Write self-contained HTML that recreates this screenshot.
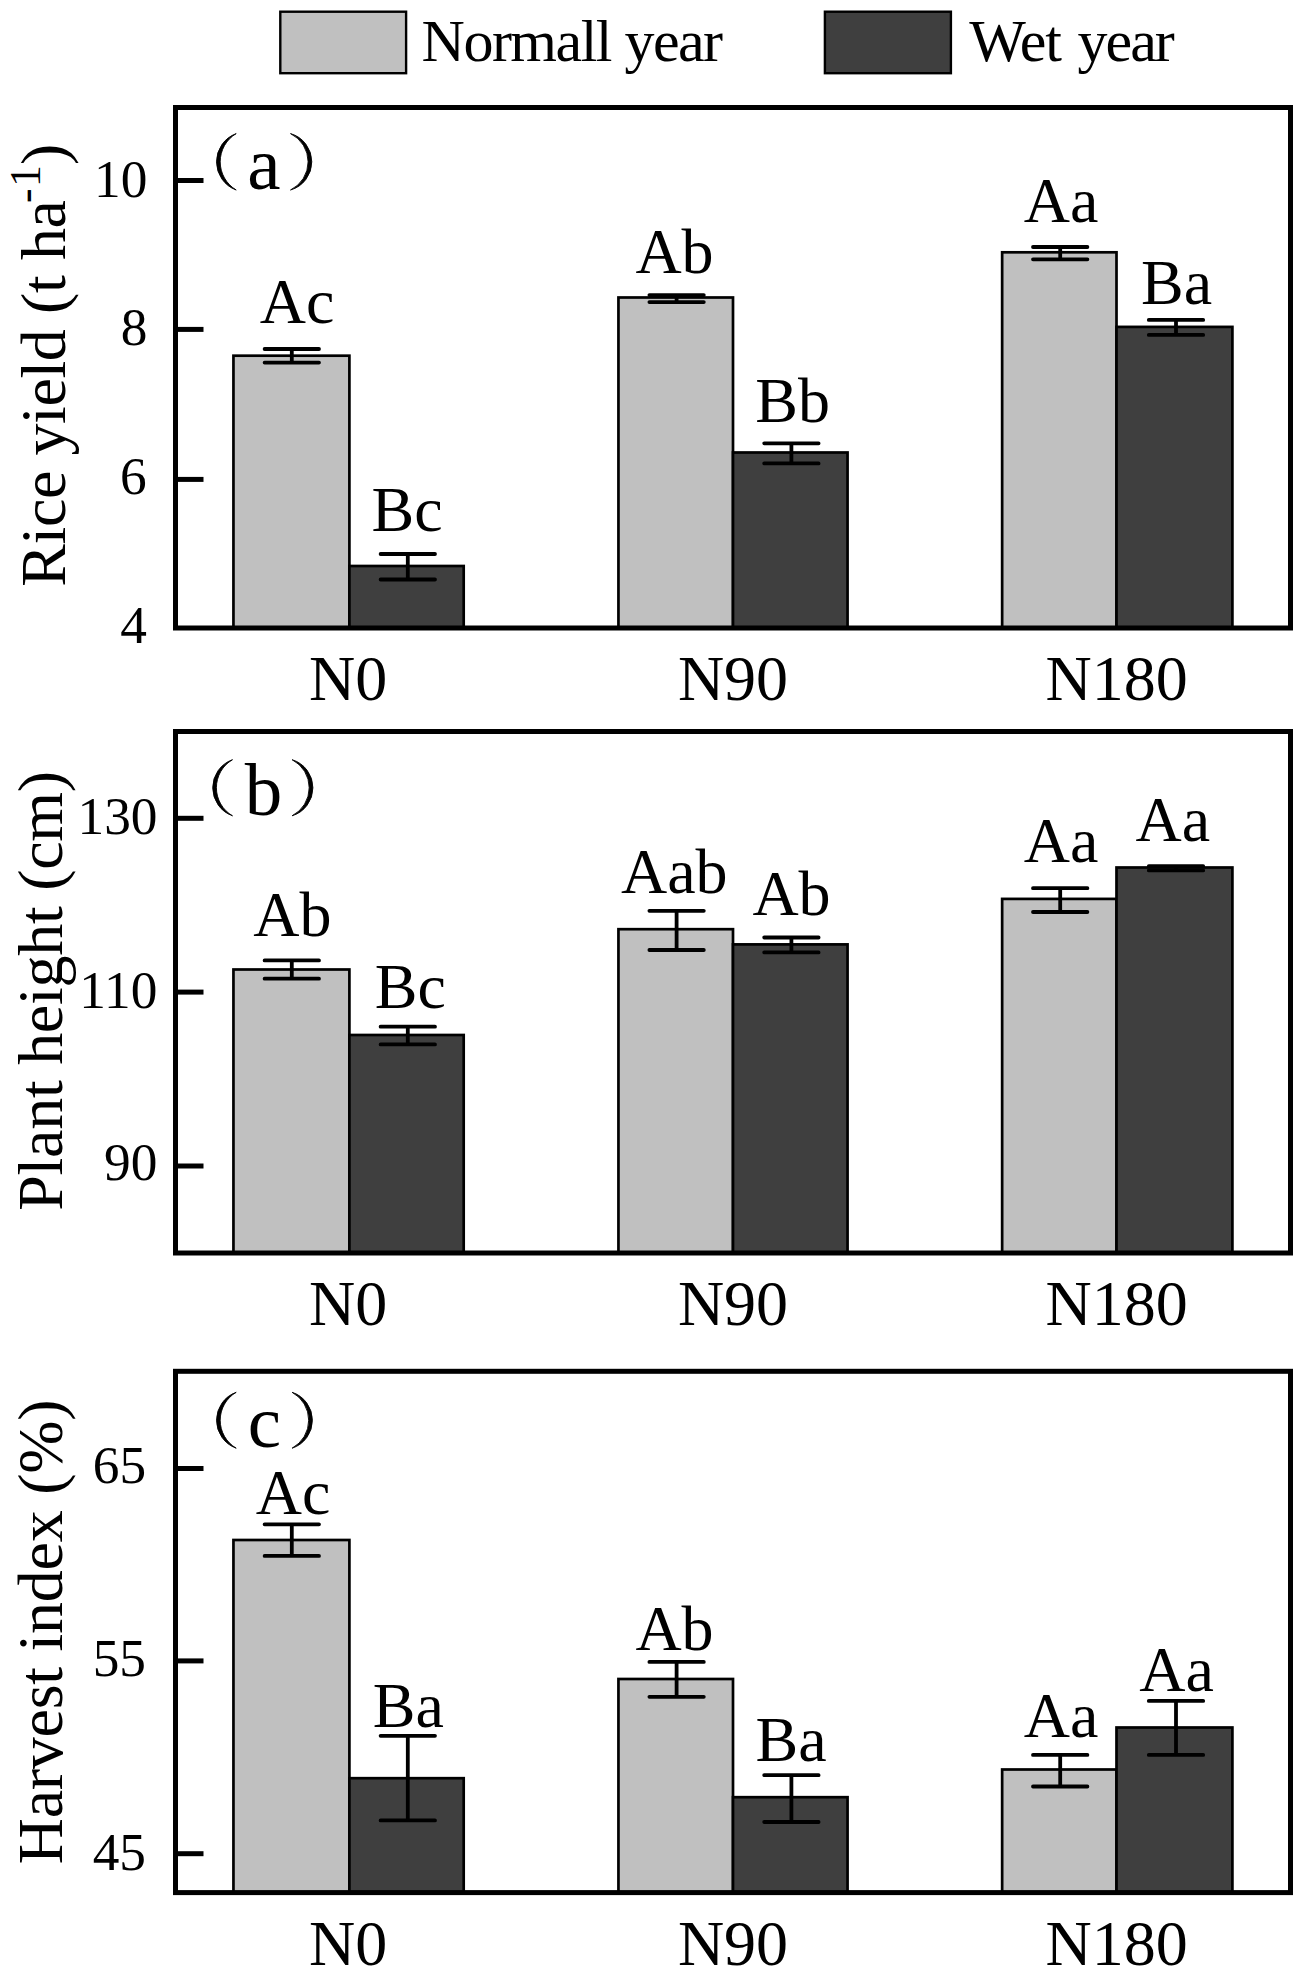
<!DOCTYPE html>
<html lang="en"><head><meta charset="utf-8"><title>Rice yield, plant height and harvest index</title>
<style>
html,body{margin:0;padding:0;background:#fff;}
body{width:1315px;height:1978px;overflow:hidden;}
svg{display:block;}
text{font-family:"Liberation Serif",serif;fill:#000;}
.yt{font-size:53.33px;text-anchor:end;}
.xt{font-size:64px;text-anchor:middle;}
.bl{font-size:64px;text-anchor:middle;}
.ti{font-size:64px;}
.lg{font-size:60px;}
.pn{font-size:75px;}
.pr{fill:#000;stroke:#000;stroke-width:0.9;stroke-linejoin:round;}
.fr{fill:none;stroke:#000;stroke-width:5;stroke-linejoin:miter;}
.tk{stroke:#000;stroke-width:5;}
.eb{stroke:#000;stroke-width:3.8;stroke-linecap:round;fill:none;}
.es{stroke:#000;stroke-width:3.8;stroke-linecap:butt;fill:none;}
.bL{fill:#c0c0c0;stroke:#000;stroke-width:2.7;}
.bD{fill:#3f3f3f;stroke:#000;stroke-width:2.7;}
</style></head><body>
<svg width="1315" height="1978" viewBox="0 0 1315 1978" role="img" aria-label="Bar charts of rice yield, plant height and harvest index under N0, N90 and N180 for normal and wet years">
<rect x="0" y="0" width="1315" height="1978" fill="#fff"/>
<rect class="bL" style="stroke-width:2.4" x="280.3" y="11.7" width="125.8" height="61.5"/>
<text class="lg" x="421.6" y="61" textLength="301.5" lengthAdjust="spacing">Normall year</text>
<rect class="bD" style="stroke-width:2.4" x="824.9" y="11.7" width="126" height="61.5"/>
<text class="lg" x="969.3" y="61" textLength="92.6" lengthAdjust="spacing">Wet</text>
<text class="lg" x="1077.6" y="61" textLength="97.2" lengthAdjust="spacing">year</text>
<g>
<rect class="bL" x="233.45" y="355.7" width="115.95" height="272.3"/>
<rect class="bD" x="349.4" y="566" width="114.3" height="62"/>
<rect class="bL" x="618.45" y="297.5" width="114.55" height="330.5"/>
<rect class="bD" x="733" y="452.5" width="114.55" height="175.5"/>
<rect class="bL" x="1002.15" y="252.3" width="114.35" height="375.7"/>
<rect class="bD" x="1116.5" y="326.9" width="115.9" height="301.1"/>
<path class="es" d="M291.8 349 V362.6"/>
<path class="eb" d="M264.6 349 H319 M264.6 362.6 H319"/>
<path class="es" d="M407.8 554 V579.5"/>
<path class="eb" d="M380.6 554 H435 M380.6 579.5 H435"/>
<path class="es" d="M676.6 295.1 V302.1"/>
<path class="eb" d="M649.4 295.1 H703.8 M649.4 302.1 H703.8"/>
<path class="es" d="M791.4 443.3 V463.4"/>
<path class="eb" d="M764.2 443.3 H818.6 M764.2 463.4 H818.6"/>
<path class="es" d="M1060.2 247 V259.3"/>
<path class="eb" d="M1033 247 H1087.4 M1033 259.3 H1087.4"/>
<path class="es" d="M1176 319.9 V334.9"/>
<path class="eb" d="M1148.8 319.9 H1203.2 M1148.8 334.9 H1203.2"/>
<rect class="fr" x="175.5" y="107.5" width="1115" height="520.5"/>
<path class="tk" d="M175.5 180.5 H203.5"/>
<path class="tk" d="M175.5 329.4 H203.5"/>
<path class="tk" d="M175.5 479.4 H203.5"/>
<text class="yt" x="147.3" y="197">10</text>
<text class="yt" x="147.4" y="345">8</text>
<text class="yt" x="146.65" y="494">6</text>
<text class="yt" x="147" y="643">4</text>
<text class="xt" x="348.1" y="700">N0</text>
<text class="xt" x="733" y="700">N90</text>
<text class="xt" x="1116.7" y="700">N180</text>
<text class="bl" x="297.1" y="323">Ac</text>
<text class="bl" x="407.1" y="531">Bc</text>
<text class="bl" x="674.5" y="273">Ab</text>
<text class="bl" x="792.7" y="422">Bb</text>
<text class="bl" x="1061" y="222">Aa</text>
<text class="bl" x="1176.6" y="304">Ba</text>
<path class="pr" d="M236.2 133.6 A30.03 30.03 0 0 0 236.2 190 A32.85 32.85 0 0 1 236.2 133.6 Z"/>
<text class="pn" x="247.2" y="189.2">a</text>
<path class="pr" d="M290.5 133.6 A29.32 29.32 0 0 1 290.5 190 A31.39 31.39 0 0 0 290.5 133.6 Z"/>
<g transform="translate(65.3 586.7) rotate(-90)">
<text class="ti" x="0" y="0" textLength="386.6" lengthAdjust="spacing">Rice yield (t ha</text>
<text class="ti" style="font-size:43.5px" x="383.8" y="-25">-</text>
<text class="ti" style="font-size:43.5px" x="399.6" y="-25">1</text>
<text class="ti" style="font-size:64px" x="421.6" y="0">)</text>
</g>
</g>
<g>
<rect class="bL" x="233.45" y="969.5" width="115.95" height="283.5"/>
<rect class="bD" x="349.4" y="1035" width="114.3" height="218"/>
<rect class="bL" x="618.45" y="929.2" width="114.55" height="323.8"/>
<rect class="bD" x="733" y="944.4" width="114.55" height="308.6"/>
<rect class="bL" x="1002.15" y="898.9" width="114.35" height="354.1"/>
<rect class="bD" x="1116.5" y="867.5" width="115.9" height="385.5"/>
<path class="es" d="M291.8 960.4 V978.7"/>
<path class="eb" d="M264.6 960.4 H319 M264.6 978.7 H319"/>
<path class="es" d="M407.8 1026.7 V1044.4"/>
<path class="eb" d="M380.6 1026.7 H435 M380.6 1044.4 H435"/>
<path class="es" d="M676.6 910.8 V950"/>
<path class="eb" d="M649.4 910.8 H703.8 M649.4 950 H703.8"/>
<path class="es" d="M791.4 937.5 V952.4"/>
<path class="eb" d="M764.2 937.5 H818.6 M764.2 952.4 H818.6"/>
<path class="es" d="M1060.2 888.2 V912"/>
<path class="eb" d="M1033 888.2 H1087.4 M1033 912 H1087.4"/>
<path class="es" d="M1176 866.2 V870.4"/>
<path class="eb" d="M1148.8 866.2 H1203.2 M1148.8 870.4 H1203.2"/>
<rect class="fr" x="175.5" y="731.5" width="1115" height="521.5"/>
<path class="tk" d="M175.5 818.3 H203.5"/>
<path class="tk" d="M175.5 992.1 H203.5"/>
<path class="tk" d="M175.5 1166 H203.5"/>
<text class="yt" x="157.5" y="834">130</text>
<text class="yt" x="157.3" y="1008">110</text>
<text class="yt" x="157.4" y="1180">90</text>
<text class="xt" x="348.1" y="1325">N0</text>
<text class="xt" x="733" y="1325">N90</text>
<text class="xt" x="1116.7" y="1325">N180</text>
<text class="bl" x="292.3" y="936">Ab</text>
<text class="bl" x="410.3" y="1008">Bc</text>
<text class="bl" x="674.3" y="893">Aab</text>
<text class="bl" x="791.5" y="915">Ab</text>
<text class="bl" x="1061" y="862">Aa</text>
<text class="bl" x="1172.9" y="841">Aa</text>
<path class="pr" d="M232.5 759.7 A29.77 29.77 0 0 0 232.5 815.8 A32.48 32.48 0 0 1 232.5 759.7 Z"/>
<text class="pn" x="244.7" y="815">b</text>
<path class="pr" d="M292.1 759.7 A29.31 29.31 0 0 1 292.1 815.8 A31.56 31.56 0 0 0 292.1 759.7 Z"/>
<g transform="translate(61.7 1210.7) rotate(-90)">
<text class="ti" x="0" y="0" textLength="439.8" lengthAdjust="spacing">Plant height (cm)</text>
</g>
</g>
<g>
<rect class="bL" x="233.45" y="1540" width="115.95" height="352.6"/>
<rect class="bD" x="349.4" y="1778.2" width="114.3" height="114.4"/>
<rect class="bL" x="618.45" y="1679" width="114.55" height="213.6"/>
<rect class="bD" x="733" y="1797.2" width="114.55" height="95.4"/>
<rect class="bL" x="1002.15" y="1769.5" width="114.35" height="123.1"/>
<rect class="bD" x="1116.5" y="1727.5" width="115.9" height="165.1"/>
<path class="es" d="M291.8 1524.3 V1555.9"/>
<path class="eb" d="M264.6 1524.3 H319 M264.6 1555.9 H319"/>
<path class="es" d="M407.8 1735.8 V1820.4"/>
<path class="eb" d="M380.6 1735.8 H435 M380.6 1820.4 H435"/>
<path class="es" d="M676.6 1661.9 V1696.8"/>
<path class="eb" d="M649.4 1661.9 H703.8 M649.4 1696.8 H703.8"/>
<path class="es" d="M791.4 1775.2 V1822"/>
<path class="eb" d="M764.2 1775.2 H818.6 M764.2 1822 H818.6"/>
<path class="es" d="M1060.2 1754.9 V1786.5"/>
<path class="eb" d="M1033 1754.9 H1087.4 M1033 1786.5 H1087.4"/>
<path class="es" d="M1176 1700.9 V1754.9"/>
<path class="eb" d="M1148.8 1700.9 H1203.2 M1148.8 1754.9 H1203.2"/>
<rect class="fr" x="175.5" y="1371.3" width="1115" height="521.3"/>
<path class="tk" d="M175.5 1468.5 H203.5"/>
<path class="tk" d="M175.5 1660.9 H203.5"/>
<path class="tk" d="M175.5 1853.7 H203.5"/>
<text class="yt" x="146.1" y="1483">65</text>
<text class="yt" x="146" y="1676">55</text>
<text class="yt" x="146" y="1870">45</text>
<text class="xt" x="348.1" y="1965">N0</text>
<text class="xt" x="733" y="1965">N90</text>
<text class="xt" x="1116.7" y="1965">N180</text>
<text class="bl" x="293" y="1514">Ac</text>
<text class="bl" x="408.4" y="1727">Ba</text>
<text class="bl" x="674.5" y="1650">Ab</text>
<text class="bl" x="791" y="1761">Ba</text>
<text class="bl" x="1061" y="1737">Aa</text>
<text class="bl" x="1176.5" y="1691">Aa</text>
<path class="pr" d="M236.2 1392.3 A29.68 29.68 0 0 0 236.2 1448.2 A32.41 32.41 0 0 1 236.2 1392.3 Z"/>
<text class="pn" x="247.7" y="1447.2">c</text>
<path class="pr" d="M292.1 1392.3 A29.39 29.39 0 0 1 292.1 1448.2 A31.83 31.83 0 0 0 292.1 1392.3 Z"/>
<g transform="translate(61.7 1864.3) rotate(-90)">
<text class="ti" x="0" y="0" textLength="464.9" lengthAdjust="spacing">Harvest index (%)</text>
</g>
</g>
</svg></body></html>
